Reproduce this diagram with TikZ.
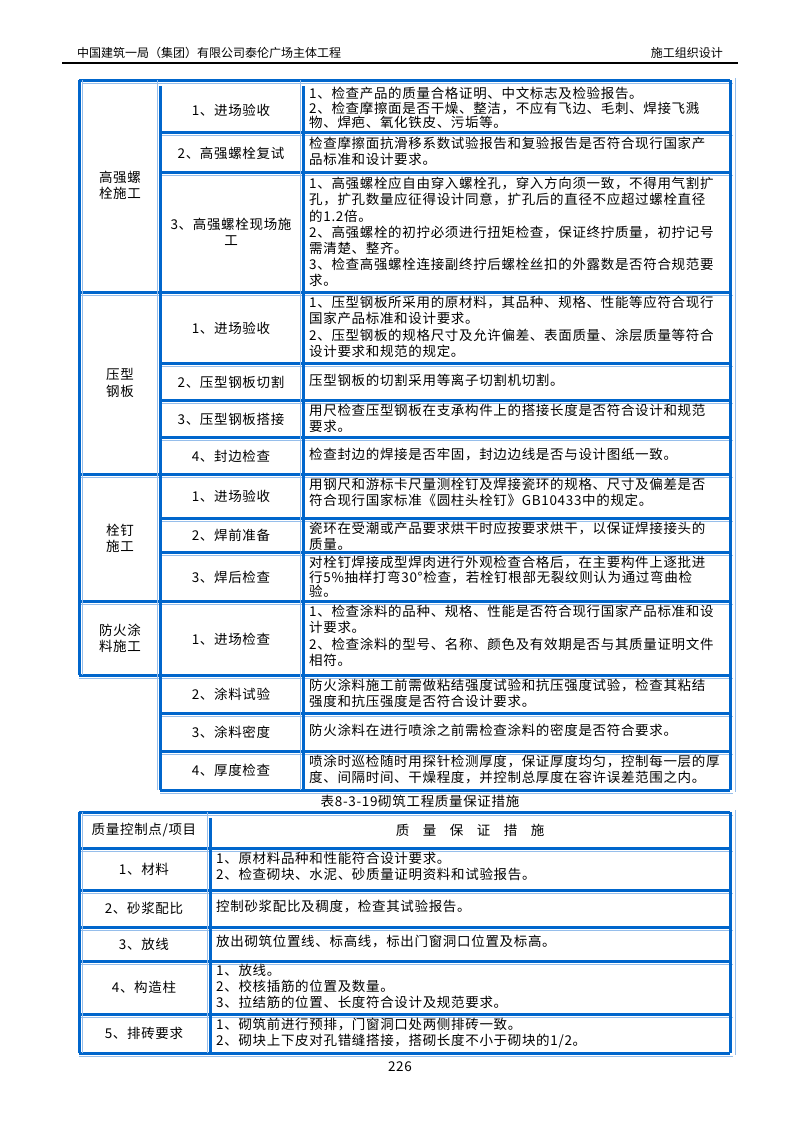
\documentclass[tikz,border=0pt]{standalone}
\usepackage{fontspec}
\setmainfont{Liberation Serif}
\newfontfamily\cjk[LetterSpace=5]{Noto Sans CJK SC}
\newfontfamily\cjkhd{Noto Sans CJK SC}
\definecolor{tblue}{RGB}{0,102,204}
\definecolor{lblue}{RGB}{150,190,235}
\begin{document}
\begin{tikzpicture}[x=1pt,y=-1pt,
  thk/.style={draw=tblue,line width=3pt},
  thn/.style={draw=lblue,line width=0.6pt},
  body/.style={anchor=north west,align=left,inner sep=0pt,font=\cjk\fontsize{13.5}{16.2}\selectfont},
  tight/.style={font=\cjk\fontsize{13.5}{14.6}\selectfont},
  cen/.style={align=center,inner sep=0pt,font=\cjk\fontsize{13.5}{16.2}\selectfont}]
\useasboundingbox (0,0) rectangle (800,1132);
\fill[white] (0,0) rectangle (800,1132);
% header
\node[anchor=base west,inner sep=0pt,font=\cjkhd\fontsize{12}{14}\selectfont] (hl) at (77,58) {中国建筑一局（集团）有限公司泰伦广场主体工程};
\node[anchor=base east,inner sep=0pt,font=\cjkhd\fontsize{12}{14}\selectfont] (hr) at (723,58) {施工组织设计};
\draw[line width=1.2pt] (62,63) -- (738,63);
% ---------- table 1 lines ----------
\foreach \y in {132,172,292,363,400,437,474,518,552,601,675,713,751,790}
  {\draw[thn] (160,\y+3) -- (733,\y+3); \draw[thk] (160,\y) -- (730,\y);}
\foreach \y in {292,474,601,675}
  {\draw[thn] (79,\y+3) -- (160,\y+3); \draw[thk] (79,\y) -- (160,\y);}
\draw[thn] (82,83) -- (733,83);
\draw[thk] (79,80) -- (730,80);
\draw[thn] (82,80) -- (82,675);
\draw[thk] (79,80) -- (79,675);
\foreach \x in {160,303}
  {\draw[thn] (\x-3,80) -- (\x-3,790); \draw[thk] (\x,86) -- (\x,790);}
\draw[thk] (730,80) -- (730,790);
\draw[thn] (735,78) -- (735,792);
% col1
\node[cen] (g1) at (120,185) {高强螺\\栓施工};
\node[cen] (g2) at (120,383) {压型\\钢板};
\node[cen] (g3) at (120,538) {栓钉\\施工};
\node[cen] (g4) at (120,638) {防火涂\\料施工};
% col2
\node[cen] (a1) at (231,110) {1、进场验收};
\node[cen] (a2) at (231,153) {2、高强螺栓复试};
\node[cen] (a3) at (231,232) {3、高强螺栓现场施\\工};
\node[cen] (b1) at (231,328) {1、进场验收};
\node[cen] (b2) at (231,382) {2、压型钢板切割};
\node[cen] (b3) at (231,419) {3、压型钢板搭接};
\node[cen] (b4) at (231,456) {4、封边检查};
\node[cen] (c1) at (231,496) {1、进场验收};
\node[cen] (c2) at (231,535) {2、焊前准备};
\node[cen] (c3) at (231,577) {3、焊后检查};
\node[cen] (d1) at (231,639) {1、进场检查};
\node[cen] (d2) at (231,694) {2、涂料试验};
\node[cen] (d3) at (231,732) {3、涂料密度};
\node[cen] (d4) at (231,770) {4、厚度检查};
% col3
\node[body,tight] (ta1) at (309,87) {1、检查产品的质量合格证明、中文标志及检验报告。\\2、检查摩擦面是否干燥、整洁，不应有飞边、毛刺、焊接飞溅\\物、焊疤、氧化铁皮、污垢等。};
\node[body] (ta2) at (309,137) {检查摩擦面抗滑移系数试验报告和复验报告是否符合现行国家产\\品标准和设计要求。};
\node[body] (ta3) at (309,177) {1、高强螺栓应自由穿入螺栓孔，穿入方向须一致，不得用气割扩\\孔，扩孔数量应征得设计同意，扩孔后的直径不应超过螺栓直径\\的1.2倍。\\2、高强螺栓的初拧必须进行扭矩检查，保证终拧质量，初拧记号\\需清楚、整齐。\\3、检查高强螺栓连接副终拧后螺栓丝扣的外露数是否符合规范要\\求。};
\node[body] (tb1) at (309,296) {1、压型钢板所采用的原材料，其品种、规格、性能等应符合现行\\国家产品标准和设计要求。\\2、压型钢板的规格尺寸及允许偏差、表面质量、涂层质量等符合\\设计要求和规范的规定。};
\node[body] (tb2) at (309,374) {压型钢板的切割采用等离子切割机切割。};
\node[body] (tb3) at (309,404) {用尺检查压型钢板在支承构件上的搭接长度是否符合设计和规范\\要求。};
\node[body] (tb4) at (309,448) {检查封边的焊接是否牢固，封边边线是否与设计图纸一致。};
\node[body] (tc1) at (309,478) {用钢尺和游标卡尺量测栓钉及焊接瓷环的规格、尺寸及偏差是否\\符合现行国家标准《圆柱头栓钉》GB10433中的规定。};
\node[body] (tc2) at (309,522) {瓷环在受潮或产品要求烘干时应按要求烘干，以保证焊接接头的\\质量。};
\node[body,tight] (tc3) at (309,556) {对栓钉焊接成型焊肉进行外观检查合格后，在主要构件上逐批进\\行5\%抽样打弯30°检查，若栓钉根部无裂纹则认为通过弯曲检\\验。};
\node[body] (td1) at (309,605) {1、检查涂料的品种、规格、性能是否符合现行国家产品标准和设\\计要求。\\2、检查涂料的型号、名称、颜色及有效期是否与其质量证明文件\\相符。};
\node[body] (td2) at (309,679) {防火涂料施工前需做粘结强度试验和抗压强度试验，检查其粘结\\强度和抗压强度是否符合设计要求。};
\node[body] (td3) at (309,724) {防火涂料在进行喷涂之前需检查涂料的密度是否符合要求。};
\node[body] (td4) at (309,755) {喷涂时巡检随时用探针检测厚度，保证厚度均匀，控制每一层的厚\\度、间隔时间、干燥程度，并控制总厚度在容许误差范围之内。};
% caption
\node[cen] (cap) at (420,801) {表8-3-19砌筑工程质量保证措施};
% ---------- table 2 ----------
\foreach \y in {848,890,927,961,1014,1053}
  {\draw[thn] (79,\y+3) -- (733,\y+3); \draw[thk] (79,\y) -- (730,\y);}
\draw[thn] (82,815) -- (733,815);
\draw[thk] (79,812) -- (730,812);
\draw[thn] (82,812) -- (82,1053);
\draw[thk] (79,812) -- (79,1053);
\draw[thn] (207,812) -- (207,1053);
\draw[thk] (210,818) -- (210,1053);
\draw[thk] (730,812) -- (730,1053);
\draw[thn] (735,810) -- (735,1055);
\node[cen] (h1) at (144,830) {质量控制点/项目};
\node[cen] (h2) at (470,830) {质\quad 量\quad 保\quad 证\quad 措\quad 施};
\node[cen] (r1) at (144,869) {1、材料};
\node[cen] (r2) at (144,908) {2、砂浆配比};
\node[cen] (r3) at (144,944) {3、放线};
\node[cen] (r4) at (144,987) {4、构造柱};
\node[cen] (r5) at (144,1033) {5、排砖要求};
\node[body] (s1) at (216,852) {1、原材料品种和性能符合设计要求。\\2、检查砌块、水泥、砂质量证明资料和试验报告。};
\node[body] (s2) at (216,900) {控制砂浆配比及稠度，检查其试验报告。};
\node[body] (s3) at (216,935) {放出砌筑位置线、标高线，标出门窗洞口位置及标高。};
\node[body] (s4) at (216,964) {1、放线。\\2、校核插筋的位置及数量。\\3、拉结筋的位置、长度符合设计及规范要求。};
\node[body] (s5) at (216,1018) {1、砌筑前进行预排，门窗洞口处两侧排砖一致。\\2、砌块上下皮对孔错缝搭接，搭砌长度不小于砌块的1/2。};
\node[cen] (pg) at (400,1067) {226};
\end{tikzpicture}
\end{document}
